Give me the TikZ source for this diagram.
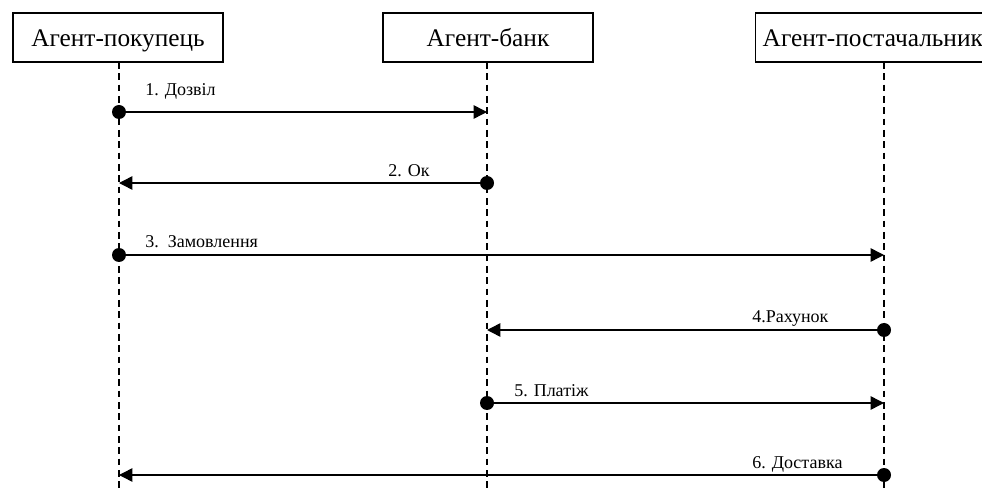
\documentclass[tikz,border=0pt]{standalone}
\usepackage{fontspec}
\setmainfont{Liberation Serif}
\usetikzlibrary{arrows.meta,positioning}

\begin{document}
\begin{tikzpicture}[x=0.75pt,y=-0.75pt,
  agent/.style={draw,line width=1.1pt,minimum height=36.75pt,text height=14pt,text depth=1.2pt,
    font=\fontsize{19}{21}\selectfont},
  lifeline/.style={line width=0.9pt,dash pattern=on 5pt off 3.5pt},
  msg/.style={line width=1.1pt,-{Triangle[length=10pt,width=10pt]}},
  msglabel/.style={anchor=base west,inner sep=0pt,font=\fontsize{13.5}{15}\selectfont}]
\useasboundingbox (0,0) rectangle (982,495);

% agents
\node[agent,minimum width=157.5pt] (buyer) at (118,37.5) {Агент-покупець};
\node[agent,minimum width=157.5pt] (bank) at (488,37.5) {Агент-банк};
\node[agent,anchor=west,inner xsep=5.25pt] (supplier) at (755,37.5) {Агент-постачальник};

% lifelines
\coordinate (buyer-top) at (119,62);
\coordinate (bank-top) at (487,62);
\coordinate (supplier-top) at (884,62);
\foreach \a in {buyer,bank,supplier}
  \draw[lifeline] (\a-top) -- (\a-top |- 0,490);

% messages
\foreach \i/\y/\from/\to in {1/112/buyer/bank,2/183/bank/buyer,3/255/buyer/supplier,
                             4/330/supplier/bank,5/403/bank/supplier,6/475/supplier/buyer}{
  \coordinate (s\i) at (\from-top |- 0,\y);
  \coordinate (e\i) at (\to-top |- 0,\y);
  \draw[msg] (s\i) -- (e\i);
  \fill (s\i) circle (5.25pt);
}

% labels
\node[msglabel] (l1) at (145,96) {1. Дозвіл};
\node[msglabel] (l2) at (388,177) {2. Ок};
\node[msglabel] (l3) at (145,248) {3.\ \ Замовлення};
\node[msglabel] (l4) at (752,323) {4.Рахунок};
\node[msglabel] (l5) at (514,397) {5. Платіж};
\node[msglabel] (l6) at (752,468) {6. Доставка};
\end{tikzpicture}
\end{document}
